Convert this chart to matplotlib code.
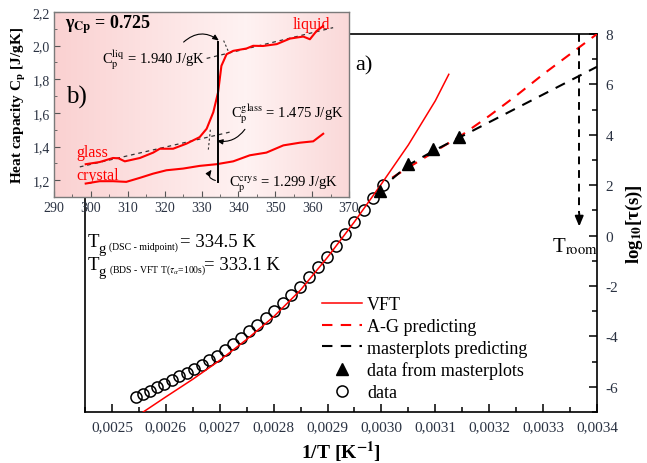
import numpy as np
import matplotlib
matplotlib.use("Agg")
import matplotlib.pyplot as plt
from matplotlib.ticker import MultipleLocator, FuncFormatter
from matplotlib.colors import LinearSegmentedColormap

# ---------------- data: relaxation map (panel a) ----------------
# inverse temperature [1/K] and log10(tau) of the measured relaxation data
data_invT = [0.002545, 0.002558, 0.002571, 0.002584, 0.002597, 0.002611, 0.002625,
             0.002639, 0.002653, 0.002667, 0.002681, 0.002695, 0.002710, 0.002725,
             0.002740, 0.002755, 0.002770, 0.002786, 0.002801, 0.002817, 0.002833,
             0.002849, 0.002865, 0.002882, 0.002899, 0.002915, 0.002933, 0.002950,
             0.002967, 0.002985, 0.003003]
data_logtau = [-6.42, -6.30, -6.15, -6.02, -5.88, -5.74, -5.59, -5.44, -5.28, -5.12,
               -4.95, -4.78, -4.55, -4.30, -4.05, -3.80, -3.55, -3.28, -2.98, -2.68,
               -2.36, -2.02, -1.66, -1.26, -0.84, -0.40, 0.06, 0.53, 1.00, 1.50, 2.02]

# VFT fit curve
vft_invT = [0.002558, 0.00260, 0.00265, 0.00270, 0.00275, 0.00280, 0.00285,
            0.00290, 0.00295, 0.00300, 0.00305, 0.00310, 0.003125]
vft_logtau = [-7.0, -6.40, -5.70, -4.95, -4.12, -3.22, -2.16, -0.86, 0.55, 2.05,
              3.60, 5.35, 6.40]

# Adam-Gibbs prediction
ag_invT = [0.00302, 0.00305, 0.00310, 0.00315, 0.00320, 0.00325, 0.00330, 0.00335, 0.00340]
ag_logtau = [2.30, 2.70, 3.35, 4.00, 4.75, 5.55, 6.40, 7.20, 8.00]

# masterplot prediction
mp_invT = [0.00302, 0.00305, 0.00310, 0.00315, 0.00320, 0.00325, 0.00330, 0.00335, 0.00340]
mp_logtau = [2.25, 2.80, 3.40, 3.95, 4.50, 5.05, 5.60, 6.15, 6.70]

# points obtained from masterplots
tri_invT = [0.002997, 0.003049, 0.003096, 0.003144]
tri_logtau = [1.77, 2.84, 3.44, 3.91]

T_room = 297.0

# ---------------- data: heat capacity (panel b) ----------------
glass_T = [298.6, 302.4, 306.0, 307.5, 309.2, 313.3, 316.9, 318.7, 322.3, 325.9, 329.5,
           331.4, 333.2, 334.5, 335.4, 336.8, 338.6, 342.2, 344.0, 346.7, 350.4, 354.0,
           357.6, 359.4, 361.2, 363.0]
glass_cp = [1.295, 1.308, 1.332, 1.330, 1.312, 1.332, 1.364, 1.387, 1.387, 1.417, 1.456,
            1.506, 1.604, 1.723, 1.880, 1.949, 1.969, 1.983, 1.999, 1.998, 2.009, 2.042,
            2.054, 2.038, 2.087, 2.117]
crys_T = [298.6, 302.4, 306.0, 309.6, 313.3, 316.9, 320.5, 325.0, 329.5, 334.1, 338.6,
          343.1, 347.6, 352.2, 356.7, 360.3, 363.0]
crys_cp = [1.180, 1.194, 1.194, 1.190, 1.214, 1.239, 1.259, 1.269, 1.285, 1.295, 1.312,
           1.348, 1.364, 1.407, 1.423, 1.431, 1.476]

# linear extrapolations of the glass and liquid branches
glass_fit_T = [297.0, 337.7]
glass_fit_cp = [1.279, 1.486]
liq_fit_T = [331.4, 365.7]
liq_fit_cp = [1.924, 2.107]

cp_liq, cp_glass, cp_crys = 1.940, 1.475, 1.299
gamma_cp = 0.725
Tg_dsc, Tg_bds = 334.5, 333.1

# ---------------- figure ----------------
plt.rcParams["font.family"] = ["Liberation Serif", "DejaVu Serif"]
plt.rcParams["mathtext.fontset"] = "stix"

W, H = 647, 464
fig = plt.figure(figsize=(W / 100, H / 100), dpi=100)
fig.patch.set_facecolor("white")

def fbox(l, t, r, b):
    return [l / W, 1 - b / H, (r - l) / W, (b - t) / H]

def ptxt(x, y, s, **kw):
    return fig.text(x / W, 1 - y / H, s, **kw)

tick_col = "#2a3242"

# ----- main panel -----
ax = fig.add_axes(fbox(85, 35, 597, 413))
ax.set_xlim(0.00245, 0.0034)
ax.set_ylim(-7, 8)

l_vft, = ax.plot(vft_invT, vft_logtau, color="red", lw=1.1, zorder=3, label="VFT")
l_ag, = ax.plot(ag_invT, ag_logtau, color="red", lw=1.5, ls=(0, (5, 4)), zorder=3,
                label="A-G predicting")
l_mp, = ax.plot(mp_invT, mp_logtau, color="black", lw=1.5, ls=(0, (5, 4)), zorder=3,
                label="masterplots predicting")
l_tri, = ax.plot(tri_invT, tri_logtau, ls="none", marker="^", ms=9, color="black",
                 zorder=4, label="data from masterplots")
l_dat, = ax.plot(data_invT, data_logtau, ls="none", marker="o", ms=8, mfc="none",
                 mec="black", mew=1.1, zorder=2, label="data")

# room temperature marker
x_room = 1.0 / T_room
ax.plot([x_room, x_room], [8, 0.9], color="black", lw=1.4, ls=(0, (4, 3)), zorder=3)
ax.annotate("", xy=(x_room, 0.25), xytext=(x_room, 1.0),
            arrowprops=dict(arrowstyle="-|>,head_width=0.25,head_length=0.6",
                            color="black", lw=1.4), zorder=3)
ax.text(0.003317, -0.61, r"T$_{\mathrm{room}}$", fontsize=15, va="baseline", ha="left")
ax.text(0.002951, 6.61, "a)", fontsize=16, va="baseline", ha="left")

ax.yaxis.tick_right()
ax.yaxis.set_label_position("right")
ax.xaxis.set_major_locator(MultipleLocator(0.0001))
ax.xaxis.set_minor_locator(MultipleLocator(0.00005))
ax.yaxis.set_major_locator(MultipleLocator(2))
ax.yaxis.set_minor_locator(MultipleLocator(1))
ax.xaxis.set_major_formatter(FuncFormatter(lambda v, p: f"{v:.4f}".replace(".", ",")))
ax.yaxis.set_major_formatter(FuncFormatter(lambda v, p: f"{v:.0f}"))
ax.tick_params(which="both", direction="in", top=False, left=False, right=True,
               bottom=True, labelsize=11, labelcolor=tick_col, width=1.1)
ax.tick_params(which="major", length=6)
ax.tick_params(which="minor", length=3.5)
ax.tick_params(axis="x", pad=6)
ax.tick_params(axis="y", pad=6)
for s in ax.spines.values():
    s.set_linewidth(1.2)

ax.set_xlabel(r"1/T [K$^{\mathbf{-1}}$]", fontsize=14, fontweight="bold", labelpad=4)
ax.set_ylabel(r"log$_{\mathbf{10}}$[τ(s)]", fontsize=13.5, fontweight="bold",
              labelpad=4, rotation=90)

fs_leg = 13
fs_px = fs_leg * 100 / 72
leg = ax.legend(handles=[l_vft, l_ag, l_mp, l_tri, l_dat], loc="upper left",
                bbox_to_anchor=(322 / W, 1 - 297 / H), bbox_transform=fig.transFigure,
                frameon=False, fontsize=fs_leg, borderpad=0, borderaxespad=0,
                handlelength=40 / fs_px, handletextpad=5 / fs_px, labelspacing=0.27,
                markerscale=1.0)

# glass transition temperatures
ptxt(88, 247, "T", fontsize=13.5, va="baseline")
ptxt(98.5, 253, "g", fontsize=10.5, va="baseline")
ptxt(109, 250, "(DSC - midpoint)", fontsize=7, va="baseline")
ptxt(180, 247, f"= {Tg_dsc} K", fontsize=13.5, va="baseline")
ptxt(88, 270, "T", fontsize=13.5, va="baseline")
ptxt(98.5, 276, "g", fontsize=10.5, va="baseline")
ptxt(109, 273, r"(BDS - VFT T($\tau_{\alpha}$=100s)", fontsize=7, va="baseline")
ptxt(204, 270, f"= {Tg_bds} K", fontsize=13.5, va="baseline")

# ----- inset: heat capacity -----
axi = fig.add_axes(fbox(54, 13, 349, 198))
cmap = LinearSegmentedColormap.from_list(
    "pinkish", [(0.0, (0.98, 0.82, 0.82)), (0.65, (1.0, 0.95, 0.95)),
                (1.0, (0.98, 0.85, 0.85))])
grad = np.linspace(0, 1, 256)[None, :]
axi.imshow(grad, extent=[0, 1, 0, 1], transform=axi.transAxes, aspect="auto",
           cmap=cmap, interpolation="bicubic", zorder=0)
axi.set_xlim(290, 370)
axi.set_ylim(1.1, 2.2)

axi.plot(glass_T, glass_cp, color="red", lw=1.5, zorder=3)
axi.plot(crys_T, crys_cp, color="red", lw=1.5, zorder=3)
axi.plot(glass_fit_T, glass_fit_cp, color="#333333", lw=0.9, ls=(0, (3, 3)), zorder=2)
axi.plot(liq_fit_T, liq_fit_cp, color="#333333", lw=0.9, ls=(0, (3, 3)), zorder=2)
axi.plot([332.4, 331.8], [1.50, 1.37], color="#333333", lw=0.8, ls=(0, (2, 2)))
axi.plot([336.0, 337.4], [2.03, 1.96], color="#333333", lw=0.8, ls=(0, (2, 2)))

# vertical double marker and curved pointers
axi.plot([334.6, 334.6], [1.19, 2.02], color="black", lw=1.4, zorder=4)
axi.annotate("", xy=(335.3, 2.02), xytext=(324.6, 2.01),
             arrowprops=dict(arrowstyle="-|>,head_width=0.15,head_length=0.35",
                             color="black", lw=0.8, connectionstyle="arc3,rad=-0.45"))
axi.annotate("", xy=(333.4, 1.437), xytext=(342.2, 1.516),
             arrowprops=dict(arrowstyle="-|>,head_width=0.15,head_length=0.35",
                             color="black", lw=0.8, connectionstyle="arc3,rad=-0.35"))
axi.annotate("", xy=(333.2, 1.275), xytext=(334.5, 1.195),
             arrowprops=dict(arrowstyle="-|>,head_width=0.15,head_length=0.35",
                             color="black", lw=0.8, connectionstyle="arc3,rad=-0.9"))

axi.text(293.0, 2.11, "γ", fontsize=13, fontweight="bold", va="baseline")
axi.text(295.2, 2.11, r"$_{\mathbf{Cp}}$ = " + f"{gamma_cp:.3f}", fontsize=13,
         fontweight="bold", va="baseline")
axi.text(303.0, 1.90, r"C$_{\mathrm{p}}^{\mathrm{liq}}$ = " + f"{cp_liq:.3f} J/gK",
         fontsize=10.5, va="baseline")
axi.text(338.0, 1.575, r"C$_{\mathrm{p}}^{\mathrm{glass}}$ = " + f"{cp_glass:.3f} J/gK",
         fontsize=10.5, va="baseline")
axi.text(337.5, 1.165, r"C$_{\mathrm{p}}^{\mathrm{crys}}$ = " + f"{cp_crys:.3f} J/gK",
         fontsize=10.5, va="baseline")
axi.text(293.2, 1.66, "b)", fontsize=18, va="baseline")
axi.text(354.8, 2.105, "liquid", fontsize=11.5, color="red", va="baseline")
axi.text(296.0, 1.345, "glass", fontsize=11.5, color="red", va="baseline")
axi.text(296.0, 1.205, "crystal", fontsize=11.5, color="red", va="baseline")

axi.xaxis.set_major_locator(MultipleLocator(10))
axi.xaxis.set_minor_locator(MultipleLocator(5))
axi.yaxis.set_major_locator(MultipleLocator(0.2))
axi.yaxis.set_minor_locator(MultipleLocator(0.1))
axi.yaxis.set_major_formatter(FuncFormatter(lambda v, p: f"{v:.1f}".replace(".", ",")))
axi.tick_params(which="both", direction="in", labelsize=10, labelcolor=tick_col,
                color="#555555", pad=3)
axi.tick_params(which="major", length=4)
axi.tick_params(which="minor", length=2.5)
for s in axi.spines.values():
    s.set_color("#7a7a7a")
    s.set_linewidth(1.0)
axi.set_ylabel(r"Heat capacity C$_{\mathbf{p}}$ [J/gK]", fontsize=11, fontweight="bold",
               labelpad=3)

fig.savefig("out.png", dpi=100)
